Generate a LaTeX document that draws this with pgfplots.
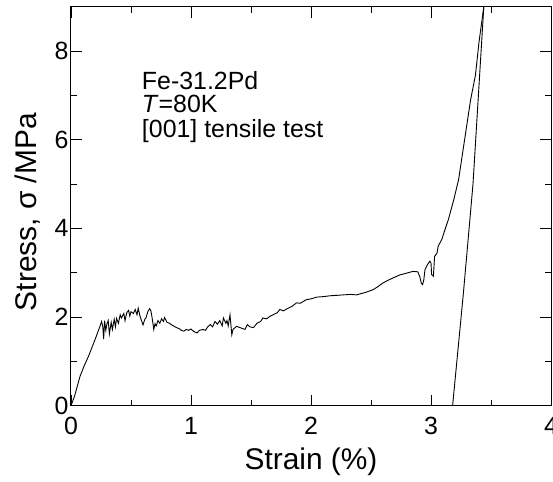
\documentclass[border=0pt]{standalone}
\usepackage{fontspec}
\setmainfont{Liberation Sans}
\usepackage{pgfplots}
\pgfplotsset{compat=1.18}

\pgfplotstableread{
x y
0 0
0.03 0.22
0.075 0.66
0.11 0.90
0.145 1.11
0.18 1.35
0.21 1.56
0.24 1.78
0.255 1.90
0.265 1.78
0.272 1.50
0.28 1.92
0.29 1.70
0.30 1.85
0.31 1.92
0.32 1.62
0.335 1.88
0.345 1.72
0.36 1.95
0.37 1.78
0.38 1.97
0.395 1.86
0.41 2.05
0.42 1.98
0.44 2.08
0.45 1.92
0.465 2.10
0.48 2.15
0.49 2.02
0.50 2.12
0.52 2.08
0.535 2.17
0.55 2.05
0.56 2.20
0.575 2.02
0.59 1.90
0.60 1.82
0.615 1.95
0.625 1.98
0.64 2.12
0.655 2.19
0.665 2.15
0.675 2.00
0.69 1.72
0.70 1.85
0.71 1.80
0.725 1.92
0.74 1.86
0.755 1.96
0.77 1.90
0.78 1.99
0.80 1.88
0.82 1.86
0.84 1.82
0.86 1.79
0.88 1.76
0.90 1.74
0.92 1.70
0.94 1.68
0.96 1.72
0.98 1.70
1.00 1.73
1.02 1.68
1.05 1.64
1.07 1.70
1.10 1.72
1.12 1.70
1.14 1.78
1.16 1.83
1.18 1.78
1.20 1.90
1.22 1.84
1.24 1.92
1.26 1.80
1.27 1.98
1.29 1.86
1.30 1.92
1.31 1.80
1.325 2.05
1.335 1.75
1.34 1.60
1.35 1.72
1.38 1.79
1.41 1.76
1.45 1.72
1.47 1.83
1.49 1.78
1.52 1.76
1.55 1.86
1.58 1.90
1.60 1.98
1.63 1.96
1.66 2.02
1.69 2.06
1.72 2.10
1.74 2.17
1.77 2.14
1.81 2.20
1.84 2.24
1.88 2.32
1.91 2.31
1.96 2.39
2.00 2.41
2.05 2.45
2.10 2.46
2.16 2.48
2.22 2.49
2.27 2.50
2.33 2.51
2.38 2.50
2.42 2.53
2.46 2.56
2.52 2.62
2.56 2.69
2.60 2.77
2.65 2.84
2.69 2.89
2.74 2.95
2.77 2.97
2.81 3.00
2.85 3.03
2.89 3.02
2.905 2.92
2.92 2.76
2.93 2.73
2.94 2.84
2.95 3.07
2.97 3.18
2.99 3.26
3.00 3.22
3.005 2.96
3.02 2.92
3.025 3.15
3.03 3.37
3.05 3.44
3.06 3.60
3.09 3.75
3.12 4.00
3.145 4.20
3.16 4.35
3.19 4.65
3.23 5.10
3.28 6.00
3.33 6.90
3.37 7.45
3.40 8.20
3.44 9.00
3.45 9.30
}\loading

\pgfplotstableread{
x y
3.45 9.30
3.44 9.00
3.35 5.00
3.27 2.54
3.18 0
}\unloading

\begin{document}
\begin{tikzpicture}
\begin{axis}[
    scale only axis,
    width=480bp, height=399bp,
    xmin=0, xmax=4, ymin=0, ymax=9,
    xtick={0,1,2,3,4}, ytick={0,2,4,6,8},
    minor x tick num=1, minor y tick num=1,
    tick align=inside,
    major tick length=11bp, minor tick length=6bp,
    every tick/.style={black, line width=0.8bp},
    axis line style={line width=1bp},
    tick label style={font=\fontsize{25}{29}\selectfont},
    xticklabel style={yshift=-8bp},
    yticklabel style={xshift=1bp},
    label style={font=\fontsize{30}{34}\selectfont},
    /pgf/number format/assume math mode=true,
    xlabel={Strain (\%)},
    ylabel={Stress, σ /MPa},
    xlabel style={yshift=-6bp},
    ylabel style={yshift=7bp, xshift=-6bp},
]
\addplot[black, line width=0.9bp] table[x=x, y=y] {\loading};
\addplot[black, line width=0.9bp] table[x=x, y=y] {\unloading};
\node[anchor=base west, inner sep=0pt, font=\fontsize{25}{29}\selectfont] at (axis cs:0.59,7.13) {Fe-31.2Pd};
\node[anchor=base west, inner sep=0pt, font=\fontsize{25}{29}\selectfont] at (axis cs:0.59,6.62) {\textit{T}=80K};
\node[anchor=base west, inner sep=0pt, font=\fontsize{25}{29}\selectfont] at (axis cs:0.59,6.05) {[001] tensile test};
\coordinate (ll) at (rel axis cs:0,0);
\coordinate (ur) at (rel axis cs:1,1);
\end{axis}
\pgfresetboundingbox
\path[use as bounding box] ([shift={(-71bp,-76bp)}]ll) rectangle ([shift={(2bp,6.7bp)}]ur);
\end{tikzpicture}
\end{document}
